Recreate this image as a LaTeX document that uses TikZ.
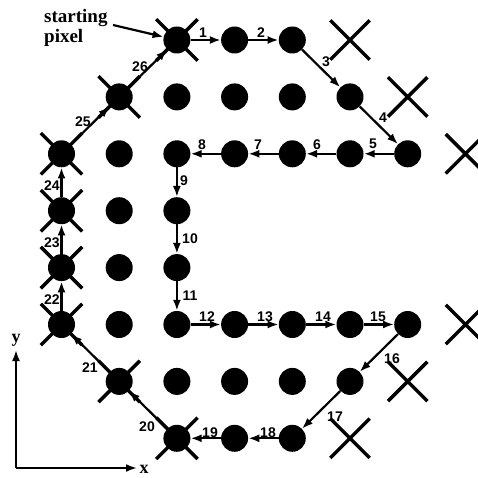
\documentclass[tikz,border=0pt]{standalone}
\usepackage{fontspec}
\setmainfont{Liberation Serif}
\newfontfamily\numfont{Liberation Sans}
\usetikzlibrary{arrows.meta,shapes.misc}
\tikzset{
  dot/.style={circle,fill=black,minimum size=27pt,inner sep=0pt},
  xmark/.style={cross out,draw=black,line width=3.4pt,minimum size=36pt,inner sep=0pt},
  xdot/.style={cross out,draw=black,line width=3.4pt,minimum size=38pt,inner sep=0pt},
  arr/.style={line width=2.2pt,-{Latex[length=11pt,width=8pt]}},
  lab/.style={font=\numfont\bfseries\fontsize{14}{14}\selectfont,inner sep=0pt},
  axtxt/.style={font=\bfseries\fontsize{18}{18}\selectfont,inner sep=0pt},
  sptxt/.style={font=\bfseries\fontsize{19}{21}\selectfont,inner sep=0pt}
}
\begin{document}
\begin{tikzpicture}[x=1pt,y=-1pt]
\useasboundingbox (0,0) rectangle (477,478);
% crosses behind crossed dots
\foreach \i/\j in {2/0,1/1,0/2,0/3,0/4,0/5,1/6,2/7}
  \node[xdot] (c\i\j) at ({61.5+57.7*\i},{40+56.9*\j}) {};
% dots
\foreach \i/\j in {2/0,3/0,4/0,5/1,6/2,5/2,4/2,3/2,2/2,2/3,2/4,2/5,3/5,4/5,5/5,6/5,5/6,4/7,3/7,2/7,1/6,0/5,0/4,0/3,0/2,1/1,
                   2/1,3/1,4/1,1/2,1/3,1/4,1/5,2/6,3/6,4/6}
  \node[dot] (d\i\j) at ({61.5+57.7*\i},{40+56.9*\j}) {};
% pure crosses
\foreach \i/\j in {5/0,6/1,7/2,7/5,6/6,5/7}
  \node[xmark] (x\i\j) at ({61.5+57.7*\i},{40+56.9*\j}) {};
% chain
\foreach \a/\b/\n/\lx/\ly in {
  20/30/1/203/33, 30/40/2/261/33, 40/51/3/326/62, 51/62/4/383/118,
  62/52/5/373/144, 52/42/6/317/145, 42/32/7/258/145, 32/22/8/202/145,
  22/23/9/184/181, 23/24/10/190/239, 24/25/11/190/296,
  25/35/12/207/317, 35/45/13/265/317, 45/55/14/323/317, 55/65/15/378/317,
  65/56/16/392/359, 56/47/17/335/417, 47/37/18/268/433, 37/27/19/210/433,
  27/16/20/147/427, 16/05/21/90/368, 05/04/22/52/300, 04/03/23/52/243,
  03/02/24/52/186, 02/11/25/83/122, 11/20/26/140/67}
{
  \draw[arr] (d\a) -- (d\b);
  \node[lab] (l\n) at (\lx,\ly) {\n};
}
% starting pixel
\node[sptxt,anchor=base west] (sp1) at (44,23) {starting};
\node[sptxt,anchor=base west] (sp2) at (44,43) {pixel};
\coordinate (spa) at (113,25);
\draw[arr] (spa) -- (d20);
% axes
\coordinate (o) at (16,468);
\coordinate (xe) at (137,468);
\coordinate (ye) at (16,350);
\draw[arr] (o) -- (xe);
\draw[arr] (o) -- (ye);
\node[axtxt] (xl) at (144,469) {x};
\node[axtxt] (yl) at (16,340) {y};
\end{tikzpicture}
\end{document}
